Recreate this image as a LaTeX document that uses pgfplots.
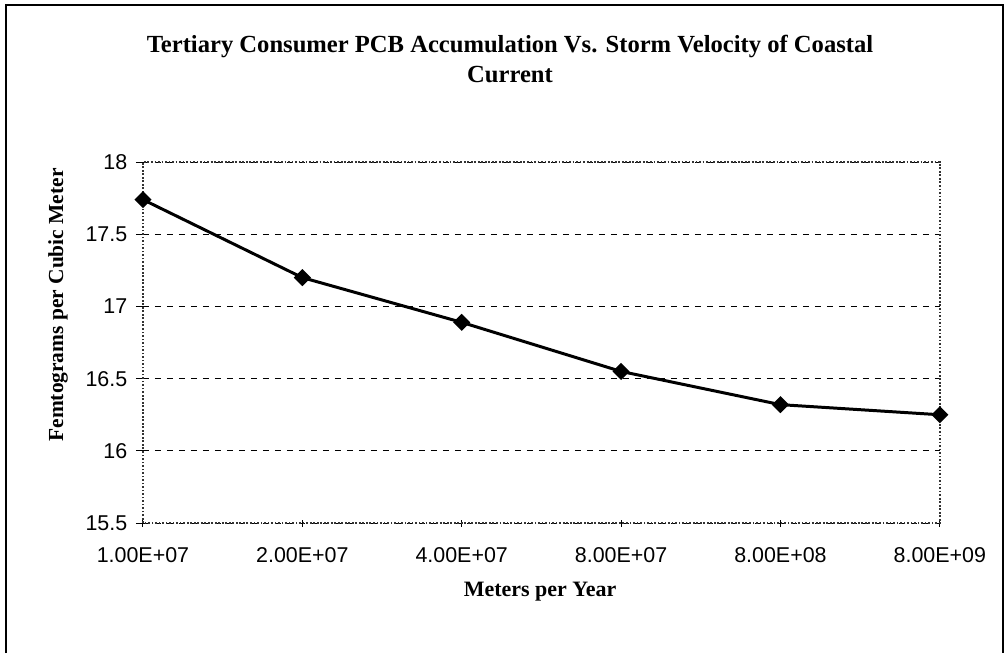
\documentclass[border=0pt]{standalone}
\usepackage{pgfplots}
\pgfplotsset{compat=1.18}
\usepackage{fontspec}
\setmainfont{Liberation Serif}
\newfontfamily\arial{Liberation Sans}
\begin{document}
\begin{tikzpicture}[x=0.02cm,y=0.02cm]
\useasboundingbox (0,0) rectangle (1006,653);
\draw[line width=1.2pt] (6,0) -- (6,648) -- (1003,648) -- (1003,0);
\begin{axis}[
  at={(2.86cm,2.60cm)}, anchor=south west,
  scale only axis, width=15.94cm, height=7.22cm,
  xmin=0, xmax=5, ymin=15.5, ymax=18,
  xtick={0,1,2,3,4,5},
  xticklabels={1.00E+07,2.00E+07,4.00E+07,8.00E+07,8.00E+08,8.00E+09},
  ytick={15.5,16,16.5,17,17.5,18},
  yticklabels={15.5,16,16.5,17,17.5,18},
  xtick pos=bottom, ytick pos=left,
  ymajorgrids,
  major grid style={black, dash pattern=on 0.12cm off 0.12cm, line width=0.6pt},
  axis line style={black!80, densely dotted, line width=1pt},
  xtick align=center, ytick align=outside,
  major tick length=0.14cm,
  tick style={black, line width=0.6pt, solid},
  tick label style={font=\arial\fontsize{12.2}{14}\selectfont},
  xticklabel style={yshift=-0.3cm},
  yticklabel style={xshift=-0.05cm},
  clip=false,
]
\addplot[black, line width=1.7pt, mark=square*, mark size=2.6pt,
  mark options={rotate=45, solid, fill=black}]
  coordinates {(0,17.74) (1,17.20) (2,16.89) (3,16.55) (4,16.32) (5,16.25)};
\end{axis}
\node[align=center, font=\bfseries\fontsize{14}{17.5}\selectfont] at (510,594)
  {Tertiary Consumer PCB Accumulation Vs. Storm Velocity of Coastal\\Current};
\node[rotate=90, font=\bfseries\fontsize{12.2}{14}\selectfont] at (58,348)
  {Femtograms per Cubic Meter};
\node[font=\bfseries\fontsize{12.5}{14}\selectfont] at (540,61) {Meters per Year};
\end{tikzpicture}
\end{document}
